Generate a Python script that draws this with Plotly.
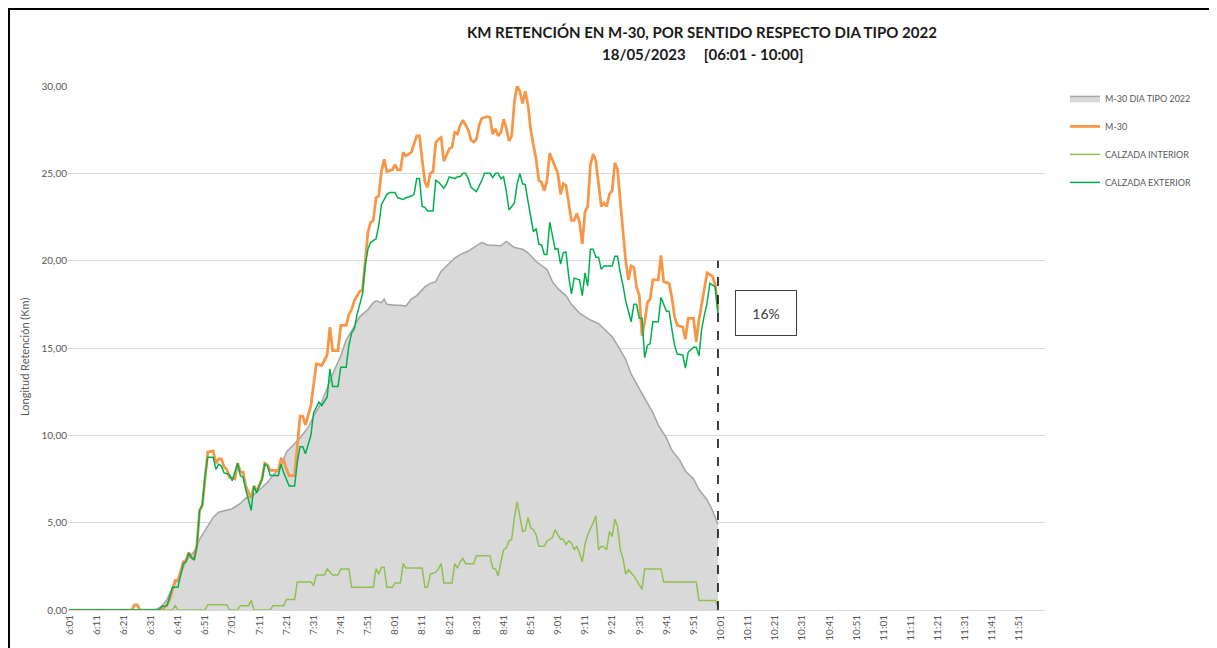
import plotly.graph_objects as go

# ---- categories: one per minute, 6:01 .. 12:00 ----
START_MIN = 6 * 60 + 1
N_CAT = 360
def lab(offset):
    t = START_MIN + offset
    return f"{t // 60}:{t % 60:02d}"
categories = [lab(i) for i in range(N_CAT)]
tick_labels = categories[::10]

# ---- series: (minutes after 6:01, km) ----
tipo_min = [0, 30, 32, 34, 36, 38, 41, 43, 46, 48, 51, 53, 55, 58, 60, 63, 65, 68, 70, 73, 75, 78, 80, 83, 85, 88, 90, 93, 95, 97,
            100, 102, 105, 107, 110, 112, 113, 115, 116, 117, 120, 122, 124, 126, 128, 131, 133, 135, 137, 139, 142, 144, 147, 149,
            152, 154, 157, 159, 161, 164, 167, 169, 172, 174, 176, 178, 180, 183, 185, 188, 190, 192, 195, 197, 200, 202, 205, 207,
            210, 212, 215, 217, 220, 222, 225, 227, 230, 232, 235, 237, 239]
tipo_km = [0, 0, 0.05, 0.2, 0.6, 1.3, 2.05, 2.85, 3.35, 4.05, 4.8, 5.3, 5.6, 5.7, 5.8, 6.1, 6.4, 6.6, 6.9, 7.3, 7.7, 8.25, 9.05, 9.55, 9.85, 10.45, 11.1, 11.9, 12.7, 13.5,
           14.55, 15.45, 16.25, 16.8, 17.2, 17.6, 17.7, 17.6, 17.8, 17.5, 17.45, 17.45, 17.4, 17.8, 18.0, 18.5, 18.7, 18.8, 19.4, 19.7, 20.15, 20.35, 20.55, 20.75,
           21.05, 20.9, 20.85, 20.85, 21.1, 20.75, 20.65, 20.45, 19.95, 19.7, 19.5, 18.8, 18.4, 18.0, 17.5, 17.0, 16.8, 16.6, 16.4, 16.1, 15.65, 15.15, 14.35, 13.5,
           12.7, 12.1, 11.3, 10.6, 9.85, 9.15, 8.55, 7.95, 7.5, 6.9, 6.3, 5.7, 4.9]

m30_min = [0, 23, 24, 25, 26, 34, 36, 37, 39, 40, 41, 42, 43, 44, 45, 46, 47, 48, 49, 50, 51, 53, 54, 55, 56, 57, 58, 59, 61, 62,
           63, 64, 65, 67, 68, 69, 70, 71, 72, 73, 74, 77, 78, 79, 80, 81, 83, 84, 85, 86, 87, 89, 90, 91, 93, 95, 96, 97, 99, 100,
           102, 103, 104, 105, 107, 108, 109, 110, 111, 112, 113, 114, 115, 116, 117, 119, 120, 121, 122, 123, 124, 125, 126, 128, 129, 130,
           131, 132, 133, 134, 135, 136, 137, 138, 139, 140, 141, 142, 143, 144, 145, 147, 148, 149, 150, 151, 152, 154, 155, 156, 157, 158,
           159, 160, 161, 162, 163, 164, 165, 166, 167, 168, 169, 170, 171, 172, 173, 174, 175, 176, 177, 178, 179, 180, 181, 182, 183, 184,
           185, 186, 187, 188, 189, 190, 191, 192, 193, 194, 195, 196, 197, 198, 199, 200, 201, 202, 203, 204, 205, 206, 207, 208, 209, 210,
           211, 212, 213, 214, 215, 217, 218, 219, 221, 222, 223, 224, 226, 227, 228, 230, 231, 232, 233, 234, 235, 237, 238, 239]
m30_km = [0, 0, 0.3, 0.3, 0, 0, 0.3, 0.6, 1.7, 1.7, 2.2, 2.75, 2.85, 3.3, 3.0, 2.95, 3.7, 5.7, 6.0, 7.7, 9.05, 9.1, 8.4, 8.65, 8.65, 8.2, 8.05, 7.6, 7.5, 8.4,
          7.9, 7.9, 7.1, 6.4, 7.1, 6.8, 7.2, 7.5, 8.4, 8.3, 8.0, 8.0, 8.65, 8.55, 8.05, 7.7, 7.7, 9.45, 11.1, 11.1, 10.6, 11.7, 13.0, 14.1, 14.0, 14.6, 16.2, 14.85, 14.85, 16.3,
          16.3, 16.9, 17.2, 17.7, 18.25, 18.3, 19.9, 21.6, 22.2, 22.3, 23.6, 23.7, 25.1, 25.8, 25.1, 25.2, 25.5, 25.2, 25.2, 26.2, 26.0, 26.1, 26.2, 27.15, 27.15, 25.8,
          24.5, 24.2, 25.0, 25.1, 26.75, 26.95, 27.05, 25.7, 26.1, 26.4, 26.5, 27.35, 27.25, 27.75, 28.05, 27.5, 26.9, 26.8, 26.95, 27.75, 28.15, 28.25, 28.2, 27.25, 27.55, 27.15,
          27.35, 28.1, 27.6, 26.85, 27.15, 29.1, 30.0, 29.7, 29.0, 29.7, 28.9, 27.5, 26.6, 25.8, 24.6, 24.5, 24.0, 24.6, 26.15, 25.8, 25.4, 25.0, 23.8, 24.4, 24.3, 23.3,
          22.3, 22.3, 22.7, 22.2, 20.95, 22.8, 23.1, 25.5, 26.1, 25.7, 24.4, 23.1, 23.3, 23.1, 23.8, 24.0, 25.6, 25.2, 23.4, 21.5, 20.0, 18.9, 19.7, 19.6, 18.5, 18.0,
          15.7, 16.5, 17.6, 17.8, 18.9, 18.9, 20.3, 18.8, 18.7, 17.9, 16.8, 16.3, 16.2, 15.5, 16.7, 16.7, 15.35, 16.6, 17.5, 18.3, 19.3, 19.1, 18.6, 17.2]

int_min = [0, 38, 39, 40, 50, 51, 58, 59, 62, 63, 66, 67, 68, 74, 75, 79, 80, 83, 84, 89, 90, 91, 94, 95, 97, 99, 100, 103, 104, 112,
           113, 114, 115, 116, 117, 119, 120, 122, 123, 124, 130, 131, 132, 133, 135, 136, 137, 138, 141, 142, 143, 144, 145, 146, 149, 150,
           155, 156, 157, 158, 159, 160, 161, 162, 163, 164, 165, 166, 167, 168, 169, 170, 171, 172, 173, 175, 176, 178, 179, 180, 181, 182,
           183, 184, 185, 186, 187, 188, 189, 190, 191, 193, 194, 195, 196, 197, 198, 199, 200, 201, 202, 203, 204, 205, 206, 208, 210, 211,
           212, 218, 219, 231, 232, 238, 239]
int_km = [0, 0, 0.25, 0, 0, 0.3, 0.3, 0, 0, 0.25, 0.25, 0.55, 0, 0, 0.25, 0.25, 0.6, 0.6, 1.6, 1.6, 1.4, 2.0, 2.0, 2.35, 2.0, 2.0, 2.35, 2.35, 1.3, 1.3,
          2.35, 2.05, 2.45, 2.45, 1.3, 1.3, 1.55, 1.55, 2.65, 2.4, 2.4, 1.3, 1.3, 2.05, 2.15, 2.35, 2.65, 1.55, 1.55, 2.65, 2.4, 2.75, 2.95, 2.65, 2.65, 3.1,
          3.1, 2.4, 2.35, 1.95, 2.75, 3.45, 3.55, 3.95, 4.05, 5.3, 6.2, 5.3, 4.5, 4.55, 5.3, 4.7, 4.6, 4.3, 3.65, 3.65, 3.95, 4.15, 4.6, 4.3, 4.05, 4.05,
          3.75, 3.95, 3.85, 3.45, 3.65, 3.25, 2.75, 3.75, 4.3, 5.0, 5.4, 3.45, 3.65, 3.6, 3.45, 4.5, 4.2, 5.2, 4.8, 3.45, 2.95, 2.05, 2.3, 1.95, 1.5, 1.2,
          2.35, 2.35, 1.6, 1.6, 0.55, 0.55, 0.2]

ext_min = [0, 33, 34, 36, 38, 40, 41, 42, 43, 44, 45, 46, 47, 48, 49, 50, 51, 53, 54, 55, 56, 57, 59, 60, 62, 63, 64, 65, 67, 68,
           69, 70, 71, 72, 73, 74, 77, 78, 79, 81, 83, 84, 85, 86, 87, 89, 90, 92, 93, 95, 96, 97, 99, 100, 102, 103, 104, 105, 106, 108,
           109, 110, 111, 113, 114, 115, 117, 118, 120, 121, 122, 123, 124, 126, 127, 128, 129, 130, 131, 132, 134, 135, 136, 138, 139, 140,
           142, 143, 144, 145, 146, 147, 148, 150, 152, 153, 155, 156, 157, 158, 159, 160, 161, 162, 163, 164, 165, 166, 167, 168, 169, 170,
           171, 172, 173, 174, 175, 176, 177, 178, 179, 180, 181, 182, 183, 184, 185, 186, 188, 189, 190, 191, 192, 193, 194, 195, 196, 197,
           200, 201, 202, 203, 204, 205, 206, 207, 208, 209, 210, 211, 212, 213, 214, 215, 217, 218, 220, 221, 222, 223, 224, 226, 227, 228,
           230, 231, 232, 233, 234, 235, 236, 237, 238, 239]
ext_km = [0, 0, 0.2, 0.25, 1.3, 1.3, 2.0, 2.65, 2.75, 3.25, 3.0, 2.85, 3.65, 5.7, 6.0, 7.7, 8.75, 8.75, 8.05, 8.35, 8.25, 7.85, 7.75, 7.4, 8.4, 7.7,
          7.6, 6.9, 5.7, 7.1, 6.7, 7.1, 7.5, 8.35, 8.25, 7.7, 7.7, 8.35, 7.85, 7.1, 7.1, 8.45, 9.35, 9.35, 8.95, 10.0, 11.3, 11.9, 11.7, 12.2, 13.8, 12.8, 12.8, 13.9,
          13.9, 15.15, 15.85, 16.1, 16.9, 18.1, 19.7, 20.65, 21.05, 21.25, 22.0, 23.2, 23.8, 23.9, 23.9, 23.6, 23.55, 23.5, 23.6, 23.7, 23.8, 24.7, 24.7, 23.1, 23.05, 22.85,
          22.85, 24.6, 24.5, 24.15, 24.4, 24.8, 24.7, 24.8, 24.8, 25.0, 25.0, 24.7, 24.2, 23.95, 24.6, 25.0, 25.0, 24.75, 25.0, 25.0, 24.7, 24.8, 24.0, 22.9, 23.1, 23.3,
          24.4, 25.0, 24.4, 24.35, 23.4, 22.5, 21.65, 21.85, 20.95, 20.9, 20.35, 20.35, 22.2, 21.45, 20.65, 20.7, 19.8, 20.45, 20.5, 19.1, 18.1, 19.0, 18.9, 18.0,
          19.3, 18.55, 20.65, 20.65, 20.2, 20.2, 19.5, 19.7, 19.7, 20.25, 20.25, 19.3, 18.6, 17.7, 17.1, 16.5, 17.5, 17.5, 16.7, 16.7, 14.45, 15.15, 15.25, 16.5,
          16.5, 17.9, 17.1, 17.1, 16.1, 15.15, 14.65, 14.6, 13.85, 14.75, 15.05, 15.05, 14.55, 16.1, 16.9, 17.6, 18.7, 18.6, 18.5, 17.0]

CUTOFF = "10:00"
cutoff_top_km = 20.0
pct_text = "16%"
title_line1 = "KM RETENCIÓN EN M-30, POR SENTIDO RESPECTO DIA TIPO 2022"
title_line2 = "18/05/2023\u00a0\u00a0\u00a0\u00a0\u00a0[06:01 - 10:00]"
y_title = "Longitud Retención (Km)"

FONT = "Lato, 'Open Sans', sans-serif"
GREY_TXT = "#595959"

fig = go.Figure()
fig.add_trace(go.Scatter(x=[lab(m) for m in tipo_min], y=tipo_km, name="M-30 DIA TIPO 2022",
                         mode="lines", fill="tozeroy", fillcolor="#d9d9d9",
                         line=dict(color="#a5a5a5", width=1.5), legendgroup="a"))
fig.add_trace(go.Scatter(x=[lab(m) for m in m30_min], y=m30_km, name="M-30",
                         mode="lines", line=dict(color="#f79646", width=2.75), legendgroup="b"))
fig.add_trace(go.Scatter(x=[lab(m) for m in int_min], y=int_km, name="CALZADA INTERIOR",
                         mode="lines", line=dict(color="#92c050", width=1.5), legendgroup="c"))
fig.add_trace(go.Scatter(x=[lab(m) for m in ext_min], y=ext_km, name="CALZADA EXTERIOR",
                         mode="lines", line=dict(color="#00b050", width=1.5), legendgroup="d"))

cut_idx = categories.index(CUTOFF)
fig.add_shape(type="line", xref="x", yref="y", x0=cut_idx, x1=cut_idx, y0=0, y1=cutoff_top_km,
              line=dict(color="black", width=1.5, dash="dash"))

# outer chart frame (around the whole chart area)
fig.add_shape(type="rect", xref="paper", yref="paper", x0=-0.0604, x1=1.172, y0=-0.3, y1=1.147,
              line=dict(color="black", width=2), layer="above")

fig.add_annotation(text=f"<b>{title_line1}</b>", xref="paper", yref="paper", x=0.649, y=1.103,
                   xanchor="center", yanchor="middle", showarrow=False,
                   font=dict(family=FONT, size=15, color="#1a1a1a"))
fig.add_annotation(text=f"<b>{title_line2}</b>", xref="paper", yref="paper", x=0.649, y=1.061,
                   xanchor="center", yanchor="middle", showarrow=False,
                   font=dict(family=FONT, size=15, color="#1a1a1a"))
fig.add_annotation(text=y_title, xref="paper", yref="paper", x=-0.044, y=0.483,
                   xanchor="center", yanchor="middle", textangle=-90, showarrow=False,
                   font=dict(family=FONT, size=11, color=GREY_TXT))
fig.add_annotation(text=pct_text, xref="paper", yref="paper", x=0.7144, y=0.5668,
                   xanchor="center", yanchor="middle", showarrow=False,
                   width=58, height=42, bordercolor="#404040", borderwidth=1, bgcolor="white",
                   font=dict(family=FONT, size=14, color="#404040"))

fig.update_layout(
    width=1209, height=640,
    margin=dict(l=60, r=172, t=78, b=38),
    paper_bgcolor="white", plot_bgcolor="white",
    separators=",.",
    font=dict(family=FONT, color=GREY_TXT),
    showlegend=True,
    legend=dict(x=1.0205, y=1.004, xanchor="left", yanchor="top", traceorder="grouped",
                tracegroupgap=9, itemwidth=30, font=dict(family=FONT, size=9, color=GREY_TXT),
                bgcolor="rgba(0,0,0,0)"),
    xaxis=dict(type="category", categoryorder="array", categoryarray=categories,
               range=[-0.5, N_CAT - 0.5], tickmode="array", tickvals=tick_labels, ticktext=tick_labels,
               tickangle=-90, tickfont=dict(family=FONT, size=10, color=GREY_TXT),
               showgrid=False, showline=True, linecolor="#d9d9d9", linewidth=1, ticks="",
               automargin=False, fixedrange=True),
    yaxis=dict(range=[0, 30], dtick=5, tickformat=".2f", gridcolor="#d9d9d9", gridwidth=1,
               zeroline=False, showline=False, tickfont=dict(family=FONT, size=10, color=GREY_TXT),
               ticks="", automargin=False, fixedrange=True),
)

fig.write_html("out.html")
